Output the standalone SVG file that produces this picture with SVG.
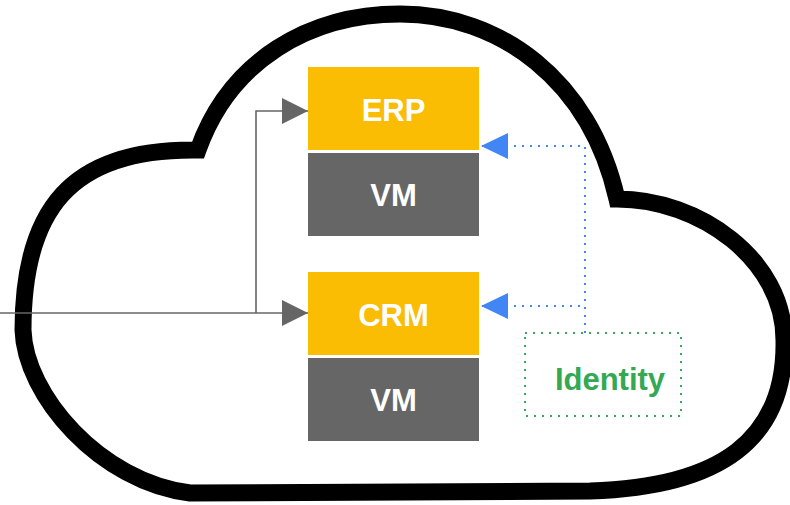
<svg xmlns="http://www.w3.org/2000/svg" width="790" height="505" viewBox="0 0 790 505">
<style>
.lbl{font-family:"Liberation Sans",Arial,sans-serif;font-weight:bold;font-size:31px;text-anchor:middle}
.w{fill:#ffffff}
.app{fill:#FBBC04}
.vm{fill:#666666}
.gl{fill:none;stroke:#666666;stroke-width:1.6}
.bl{fill:none;stroke:#4285F4;stroke-width:2;stroke-dasharray:2 6}
</style>
<defs>
<marker id="ag" markerUnits="userSpaceOnUse" markerWidth="26" markerHeight="28" refX="26" refY="14" orient="auto">
<path d="M0,1 L26,14 L0,27 Z" fill="#666666"/>
</marker>
<marker id="ab" markerUnits="userSpaceOnUse" markerWidth="27" markerHeight="28" refX="27" refY="14" orient="auto">
<path d="M0,1 L27,14 L0,27 Z" fill="#4285F4"/>
</marker>
</defs>
<rect width="790" height="505" fill="#ffffff"/>
<g id="cloud">
<path d="M198,150 C230,60 310,14 400,14 C500,14 590,80 617,199 C700,199 784,260 784,340 C786,440 720,487 590,491 L190,493 C100,482 25,395 23,330 C23,210 70,148 198,150 Z" fill="none" stroke="#000000" stroke-width="17" stroke-linejoin="miter" stroke-miterlimit="10"/>
</g>
<g id="erp">
<rect class="app" x="308" y="67" width="171" height="83"/>
<text class="lbl w" x="393.5" y="121">ERP</text>
</g>
<g id="vm1">
<rect class="vm" x="308" y="153" width="171" height="83"/>
<text class="lbl w" x="393.5" y="206">VM</text>
</g>
<g id="crm">
<rect class="app" x="308" y="272" width="171" height="83"/>
<text class="lbl w" x="393.5" y="326">CRM</text>
</g>
<g id="vm2">
<rect class="vm" x="308" y="358" width="171" height="83"/>
<text class="lbl w" x="393.5" y="411">VM</text>
</g>
<g id="identity">
<rect x="525" y="333" width="156" height="83" fill="none" stroke="#34A853" stroke-width="2" stroke-dasharray="2 6"/>
<text class="lbl" x="610" y="390" fill="#34A853">Identity</text>
</g>
<g id="connectors">
<path class="gl" d="M0,313 H308" marker-end="url(#ag)"/>
<path class="gl" d="M256,313 V111 H308" marker-end="url(#ag)"/>
<path class="bl" d="M585,333 V146 H481" marker-end="url(#ab)"/>
<path class="bl" d="M585,333 V306 H481" marker-end="url(#ab)"/>
</g>
</svg>
